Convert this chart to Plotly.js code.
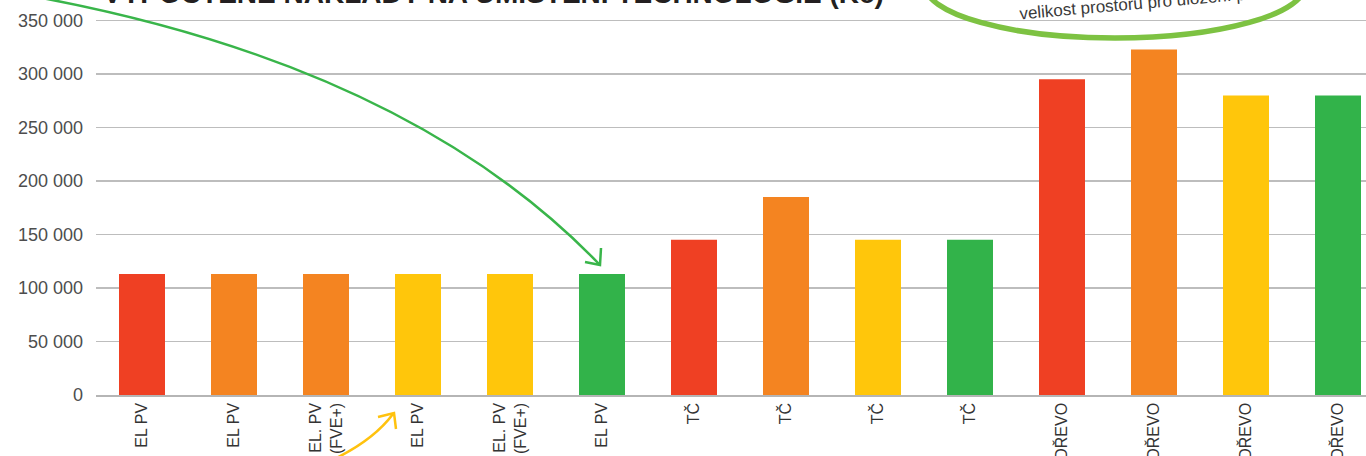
<!DOCTYPE html>
<html>
<head>
<meta charset="utf-8">
<script src="https://cdn.plot.ly/plotly-3.0.1.min.js"></script>
<style>html,body{margin:0;padding:0;background:#fff;}#chart{width:1366px;height:456px;}</style>
</head>
<body>
<div id="chart"></div>
<script>
// ---- data ----
const labels = ["EL PV","EL PV","EL. PV<br>(FVE+)","EL PV","EL. PV<br>(FVE+)","EL PV","TČ","TČ","TČ","TČ","DŘEVO","DŘEVO","DŘEVO","DŘEVO"];
const costs = [113000,113000,113000,113000,113000,113000,145000,185000,145000,145000,295000,323000,280000,280000];
const barColors = ["#ef4023","#f48421","#f48421","#ffc60b","#ffc60b","#32b34a","#ef4023","#f48421","#ffc60b","#32b34a","#ef4023","#f48421","#ffc60b","#32b34a"];
const yTicks = [0,50000,100000,150000,200000,250000,300000,350000];
const yTickText = ["0","50 000","100 000","150 000","200 000","250 000","300 000","350 000"];
const titleText = "VYPOČTENÉ NÁKLADY NA UMÍSTĚNÍ TECHNOLOGIE (Kč)";
const noteText = "velikost prostoru pro uložení paliva";

const positions = labels.map((_, i) => i);

// ---- layout helpers (pixel -> paper) ----
const L = 96, T = 0, W = 1270, H = 395;
const px = x => ((x - L) / W).toFixed(5);
const py = y => (1 - (y - T) / H).toFixed(5);
const P = (x, y) => px(x) + "," + py(y);

const sans = "Liberation Sans, Arial, sans-serif";

const trace = {
  type: "bar",
  x: positions,
  y: costs,
  marker: {color: barColors, line: {width: 0}},
  hoverinfo: "none"
};

const green = "#39b54a";
const yellow = "#ffc20e";

const layout = {
  width: 1366, height: 456,
  margin: {l: L, r: 0, t: T, b: 456 - H},
  paper_bgcolor: "#fff", plot_bgcolor: "#fff",
  bargap: 0.5,
  showlegend: false,
  xaxis: {
    range: [-0.5, -0.5 + W / 92],
    tickmode: "array", tickvals: positions, ticktext: labels,
    tickangle: -90,
    tickfont: {family: sans, size: 16, color: "#333"},
    showgrid: false, zeroline: false,
    showline: true, linecolor: "#b5b5b5", linewidth: 1.5,
    ticks: "", fixedrange: true
  },
  yaxis: {
    range: [0, 350000 * 395 / 374.5],
    tickmode: "array", tickvals: yTicks, ticktext: yTickText,
    tickfont: {family: sans, size: 18, color: "#4d4d4d"},
    showgrid: true, gridcolor: "#bdbdbd", gridwidth: 1.5,
    zeroline: false, showline: false, ticks: "",
    ticklabelstandoff: 12, fixedrange: true
  },
  shapes: [
    // green ellipse (call-out)
    {type: "circle", xref: "paper", yref: "paper",
     x0: px(925), x1: px(1305), y0: py(38), y1: py(-68),
     line: {color: "#7dc242", width: 5.5}},
    // green curved arrow
    {type: "path", xref: "paper", yref: "paper",
     path: "M " + P(20, -6) + " C " + P(280, 40) + " " + P(470, 130) + " " + P(599, 264),
     line: {color: green, width: 2.5}},
    {type: "path", xref: "paper", yref: "paper",
     path: "M " + P(585, 262) + " L " + P(600, 265) + " L " + P(601, 248),
     line: {color: green, width: 2.5}},
    // yellow curved arrow
    {type: "path", xref: "paper", yref: "paper",
     path: "M " + P(328, 462) + " Q " + P(372, 442) + " " + P(393, 414),
     line: {color: yellow, width: 2.5}},
    {type: "path", xref: "paper", yref: "paper",
     path: "M " + P(378, 417) + " L " + P(394, 413) + " L " + P(396, 429),
     line: {color: yellow, width: 2.5}}
  ],
  annotations: [
    {xref: "paper", yref: "paper", x: px(101), y: py(11), xanchor: "left", yanchor: "bottom",
     text: "<b>" + titleText + "</b>", showarrow: false,
     font: {family: sans, size: 28, color: "#231f20"}},
    {xref: "paper", yref: "paper", x: px(1150), y: py(3), xanchor: "center", yanchor: "middle",
     text: noteText, showarrow: false, textangle: -5,
     font: {family: sans, size: 17, color: "#3a3a3a"}}
  ]
};

Plotly.newPlot("chart", [trace], layout, {displayModeBar: false, staticPlot: true});
</script>
</body>
</html>
